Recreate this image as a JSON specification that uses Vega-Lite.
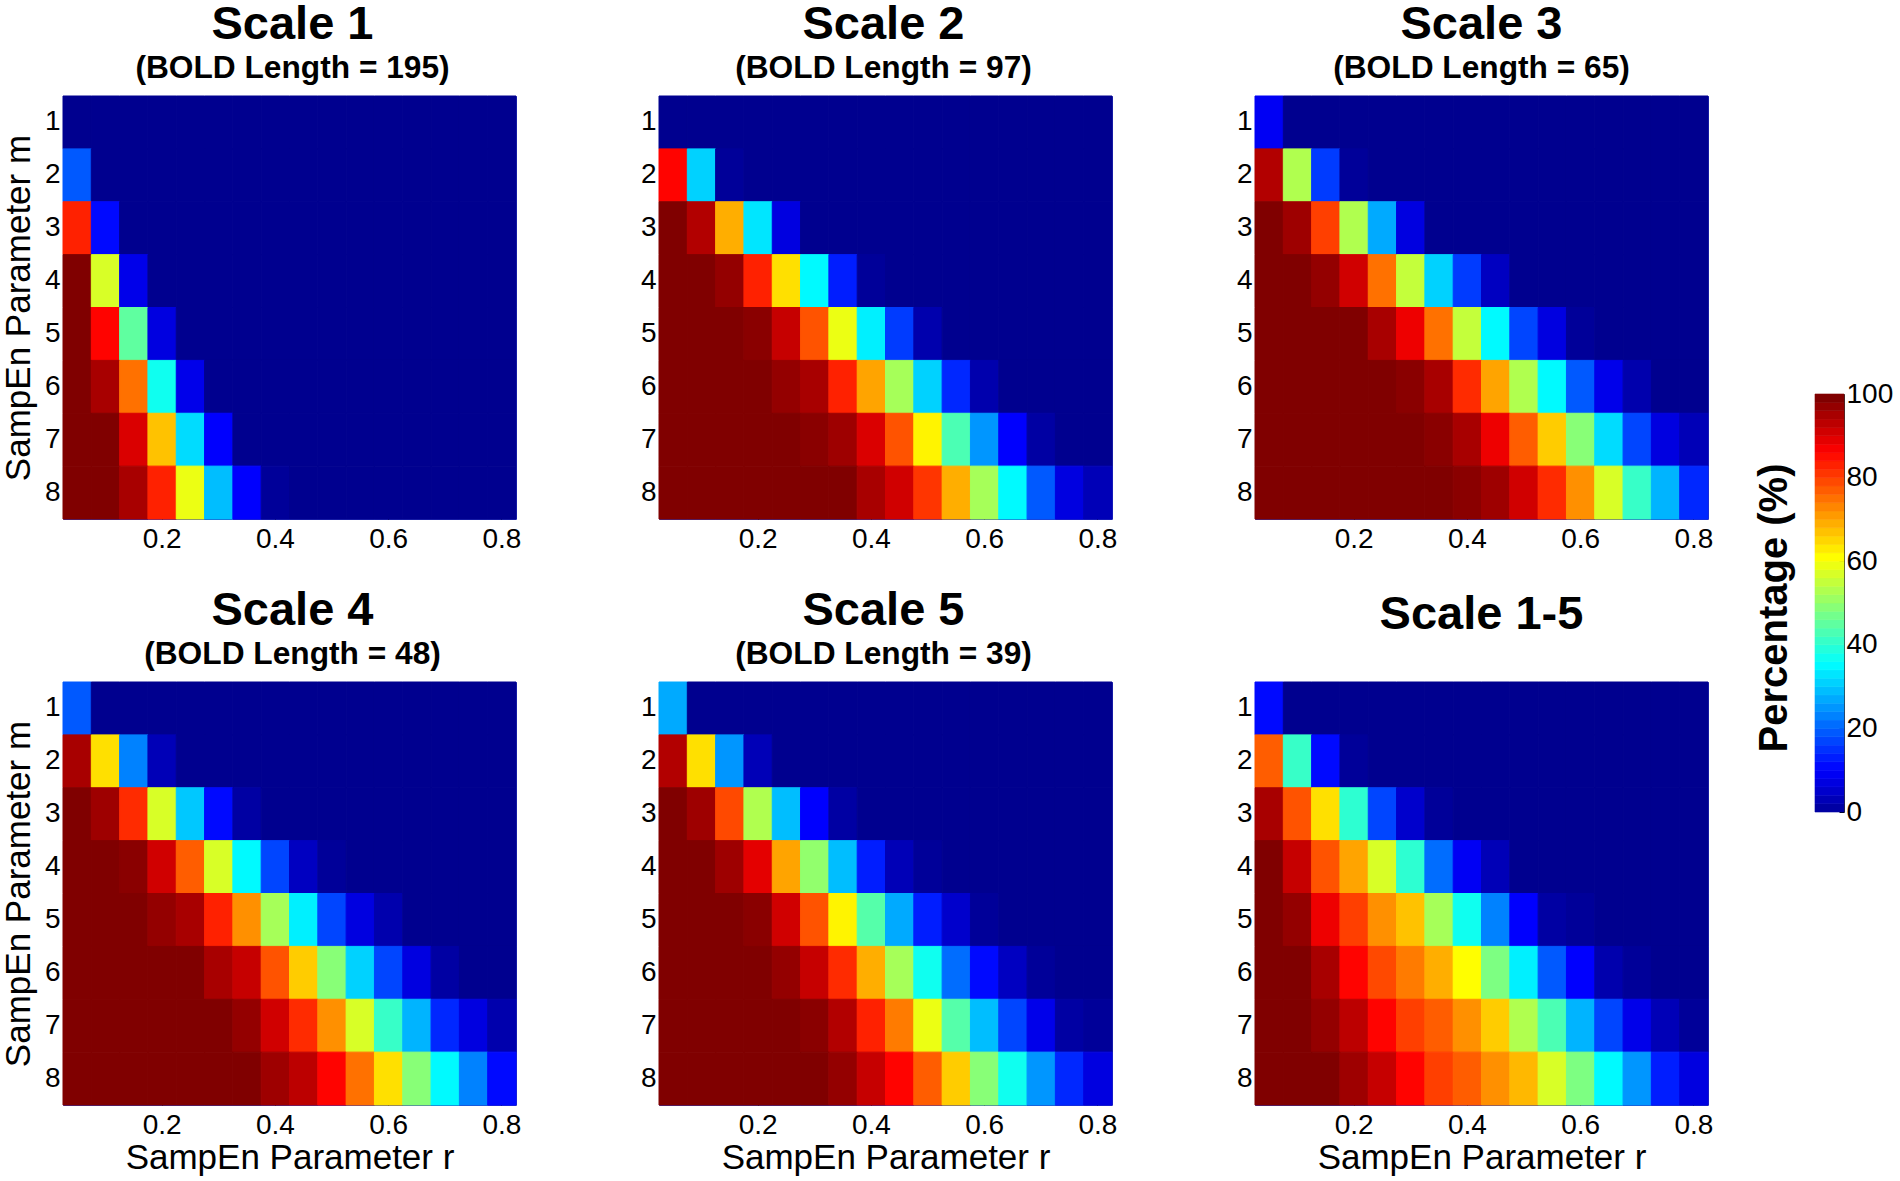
{"$schema":"https://vega.github.io/schema/vega-lite/v6.json","padding":0,"background":"white","spacing":40,
"config":{"font":"Liberation Sans","view":{"stroke":"#2a35b8","strokeWidth":1},"title":{"font":"Liberation Sans","fontSize":47,"fontWeight":"bold","color":"#000","subtitleFont":"Liberation Sans","subtitleFontSize":31.7,"subtitleFontWeight":"bold","subtitleColor":"#000","subtitlePadding":4,"anchor":"middle","offset":10},"axis":{"labelFont":"Liberation Sans","titleFont":"Liberation Sans","labelFontSize":28,"titleFontSize":35,"titleFontWeight":"normal","labelColor":"#000","titleColor":"#000","domain":false,"grid":false,"tickColor":"#000","tickSize":-5,"labelPadding":8,"zindex":1}},
"hconcat":[{"vconcat":[{"spacing":117,"hconcat":[
{"title":{"text":"Scale 1","subtitle":"(BOLD Length = 195)","dx":3},"width":453,"height":423,"transform":[{"filter":"datum.scale==1"}],"mark":{"type":"rect","strokeWidth":1},"encoding":{"x":{"field":"r","type":"ordinal","scale":{"domain":[0.05,0.1,0.15,0.2,0.25,0.3,0.35,0.4,0.45,0.5,0.55,0.6,0.65,0.7,0.75,0.8]},"axis":{"values":[0.2,0.4,0.6,0.8],"labelAngle":0,"title":null,"labelPadding":11}},"y":{"field":"m","type":"ordinal","scale":{"domain":[1,2,3,4,5,6,7,8]},"axis":{"title":"SampEn Parameter m","titlePadding":8}},"color":{"field":"pct","type":"quantitative","legend":null,"scale":{"domain":[0,11.1,36.5,61.9,87.3,100],"range":["#00008f","#0000ff","#00ffff","#ffff00","#ff0000","#800000"],"interpolate":"rgb"}},"stroke":{"field":"pct","type":"quantitative","legend":null,"scale":{"domain":[0,11.1,36.5,61.9,87.3,100],"range":["#00008f","#0000ff","#00ffff","#ffff00","#ff0000","#800000"],"interpolate":"rgb"}}}},
{"title":{"text":"Scale 2","subtitle":"(BOLD Length = 97)","dx":-2},"width":453,"height":423,"transform":[{"filter":"datum.scale==2"}],"mark":{"type":"rect","strokeWidth":1},"encoding":{"x":{"field":"r","type":"ordinal","scale":{"domain":[0.05,0.1,0.15,0.2,0.25,0.3,0.35,0.4,0.45,0.5,0.55,0.6,0.65,0.7,0.75,0.8]},"axis":{"values":[0.2,0.4,0.6,0.8],"labelAngle":0,"title":null,"labelPadding":11}},"y":{"field":"m","type":"ordinal","scale":{"domain":[1,2,3,4,5,6,7,8]},"axis":{"title":null}},"color":{"field":"pct","type":"quantitative","legend":null,"scale":{"domain":[0,11.1,36.5,61.9,87.3,100],"range":["#00008f","#0000ff","#00ffff","#ffff00","#ff0000","#800000"],"interpolate":"rgb"}},"stroke":{"field":"pct","type":"quantitative","legend":null,"scale":{"domain":[0,11.1,36.5,61.9,87.3,100],"range":["#00008f","#0000ff","#00ffff","#ffff00","#ff0000","#800000"],"interpolate":"rgb"}}}},
{"title":{"text":"Scale 3","subtitle":"(BOLD Length = 65)"},"width":453,"height":423,"transform":[{"filter":"datum.scale==3"}],"mark":{"type":"rect","strokeWidth":1},"encoding":{"x":{"field":"r","type":"ordinal","scale":{"domain":[0.05,0.1,0.15,0.2,0.25,0.3,0.35,0.4,0.45,0.5,0.55,0.6,0.65,0.7,0.75,0.8]},"axis":{"values":[0.2,0.4,0.6,0.8],"labelAngle":0,"title":null,"labelPadding":11}},"y":{"field":"m","type":"ordinal","scale":{"domain":[1,2,3,4,5,6,7,8]},"axis":{"title":null}},"color":{"field":"pct","type":"quantitative","legend":null,"scale":{"domain":[0,11.1,36.5,61.9,87.3,100],"range":["#00008f","#0000ff","#00ffff","#ffff00","#ff0000","#800000"],"interpolate":"rgb"}},"stroke":{"field":"pct","type":"quantitative","legend":null,"scale":{"domain":[0,11.1,36.5,61.9,87.3,100],"range":["#00008f","#0000ff","#00ffff","#ffff00","#ff0000","#800000"],"interpolate":"rgb"}}}}
]},{"spacing":117,"hconcat":[
{"title":{"text":"Scale 4","subtitle":"(BOLD Length = 48)","dx":3},"width":453,"height":423,"transform":[{"filter":"datum.scale==4"}],"mark":{"type":"rect","strokeWidth":1},"encoding":{"x":{"field":"r","type":"ordinal","scale":{"domain":[0.05,0.1,0.15,0.2,0.25,0.3,0.35,0.4,0.45,0.5,0.55,0.6,0.65,0.7,0.75,0.8]},"axis":{"values":[0.2,0.4,0.6,0.8],"labelAngle":0,"title":"SampEn Parameter r","labelPadding":11,"titlePadding":1}},"y":{"field":"m","type":"ordinal","scale":{"domain":[1,2,3,4,5,6,7,8]},"axis":{"title":"SampEn Parameter m","titlePadding":8}},"color":{"field":"pct","type":"quantitative","legend":null,"scale":{"domain":[0,11.1,36.5,61.9,87.3,100],"range":["#00008f","#0000ff","#00ffff","#ffff00","#ff0000","#800000"],"interpolate":"rgb"}},"stroke":{"field":"pct","type":"quantitative","legend":null,"scale":{"domain":[0,11.1,36.5,61.9,87.3,100],"range":["#00008f","#0000ff","#00ffff","#ffff00","#ff0000","#800000"],"interpolate":"rgb"}}}},
{"title":{"text":"Scale 5","subtitle":"(BOLD Length = 39)","dx":-2},"width":453,"height":423,"transform":[{"filter":"datum.scale==5"}],"mark":{"type":"rect","strokeWidth":1},"encoding":{"x":{"field":"r","type":"ordinal","scale":{"domain":[0.05,0.1,0.15,0.2,0.25,0.3,0.35,0.4,0.45,0.5,0.55,0.6,0.65,0.7,0.75,0.8]},"axis":{"values":[0.2,0.4,0.6,0.8],"labelAngle":0,"title":"SampEn Parameter r","labelPadding":11,"titlePadding":1}},"y":{"field":"m","type":"ordinal","scale":{"domain":[1,2,3,4,5,6,7,8]},"axis":{"title":null}},"color":{"field":"pct","type":"quantitative","legend":null,"scale":{"domain":[0,11.1,36.5,61.9,87.3,100],"range":["#00008f","#0000ff","#00ffff","#ffff00","#ff0000","#800000"],"interpolate":"rgb"}},"stroke":{"field":"pct","type":"quantitative","legend":null,"scale":{"domain":[0,11.1,36.5,61.9,87.3,100],"range":["#00008f","#0000ff","#00ffff","#ffff00","#ff0000","#800000"],"interpolate":"rgb"}}}},
{"title":{"text":"Scale 1-5","subtitle":" ","dy":4},"width":453,"height":423,"transform":[{"filter":"datum.scale==6"}],"mark":{"type":"rect","strokeWidth":1},"encoding":{"x":{"field":"r","type":"ordinal","scale":{"domain":[0.05,0.1,0.15,0.2,0.25,0.3,0.35,0.4,0.45,0.5,0.55,0.6,0.65,0.7,0.75,0.8]},"axis":{"values":[0.2,0.4,0.6,0.8],"labelAngle":0,"title":"SampEn Parameter r","labelPadding":11,"titlePadding":1}},"y":{"field":"m","type":"ordinal","scale":{"domain":[1,2,3,4,5,6,7,8]},"axis":{"title":null}},"color":{"field":"pct","type":"quantitative","legend":null,"scale":{"domain":[0,11.1,36.5,61.9,87.3,100],"range":["#00008f","#0000ff","#00ffff","#ffff00","#ff0000","#800000"],"interpolate":"rgb"}},"stroke":{"field":"pct","type":"quantitative","legend":null,"scale":{"domain":[0,11.1,36.5,61.9,87.3,100],"range":["#00008f","#0000ff","#00ffff","#ffff00","#ff0000","#800000"],"interpolate":"rgb"}}}}
]}],"spacing":32,
"data":{"values":[
{"scale":1,"m":1,"r":0.05,"pct":0},{"scale":1,"m":1,"r":0.1,"pct":0},{"scale":1,"m":1,"r":0.15,"pct":0},{"scale":1,"m":1,"r":0.2,"pct":0},{"scale":1,"m":1,"r":0.25,"pct":0},{"scale":1,"m":1,"r":0.3,"pct":0},{"scale":1,"m":1,"r":0.35,"pct":0},{"scale":1,"m":1,"r":0.4,"pct":0},{"scale":1,"m":1,"r":0.45,"pct":0},{"scale":1,"m":1,"r":0.5,"pct":0},{"scale":1,"m":1,"r":0.55,"pct":0},{"scale":1,"m":1,"r":0.6,"pct":0},{"scale":1,"m":1,"r":0.65,"pct":0},{"scale":1,"m":1,"r":0.7,"pct":0},{"scale":1,"m":1,"r":0.75,"pct":0},{"scale":1,"m":1,"r":0.8,"pct":0},
{"scale":1,"m":2,"r":0.05,"pct":20},{"scale":1,"m":2,"r":0.1,"pct":0},{"scale":1,"m":2,"r":0.15,"pct":0},{"scale":1,"m":2,"r":0.2,"pct":0},{"scale":1,"m":2,"r":0.25,"pct":0},{"scale":1,"m":2,"r":0.3,"pct":0},{"scale":1,"m":2,"r":0.35,"pct":0},{"scale":1,"m":2,"r":0.4,"pct":0},{"scale":1,"m":2,"r":0.45,"pct":0},{"scale":1,"m":2,"r":0.5,"pct":0},{"scale":1,"m":2,"r":0.55,"pct":0},{"scale":1,"m":2,"r":0.6,"pct":0},{"scale":1,"m":2,"r":0.65,"pct":0},{"scale":1,"m":2,"r":0.7,"pct":0},{"scale":1,"m":2,"r":0.75,"pct":0},{"scale":1,"m":2,"r":0.8,"pct":0},
{"scale":1,"m":3,"r":0.05,"pct":84},{"scale":1,"m":3,"r":0.1,"pct":12},{"scale":1,"m":3,"r":0.15,"pct":0},{"scale":1,"m":3,"r":0.2,"pct":0},{"scale":1,"m":3,"r":0.25,"pct":0},{"scale":1,"m":3,"r":0.3,"pct":0},{"scale":1,"m":3,"r":0.35,"pct":0},{"scale":1,"m":3,"r":0.4,"pct":0},{"scale":1,"m":3,"r":0.45,"pct":0},{"scale":1,"m":3,"r":0.5,"pct":0},{"scale":1,"m":3,"r":0.55,"pct":0},{"scale":1,"m":3,"r":0.6,"pct":0},{"scale":1,"m":3,"r":0.65,"pct":0},{"scale":1,"m":3,"r":0.7,"pct":0},{"scale":1,"m":3,"r":0.75,"pct":0},{"scale":1,"m":3,"r":0.8,"pct":0},
{"scale":1,"m":4,"r":0.05,"pct":100},{"scale":1,"m":4,"r":0.1,"pct":58},{"scale":1,"m":4,"r":0.15,"pct":9},{"scale":1,"m":4,"r":0.2,"pct":0},{"scale":1,"m":4,"r":0.25,"pct":0},{"scale":1,"m":4,"r":0.3,"pct":0},{"scale":1,"m":4,"r":0.35,"pct":0},{"scale":1,"m":4,"r":0.4,"pct":0},{"scale":1,"m":4,"r":0.45,"pct":0},{"scale":1,"m":4,"r":0.5,"pct":0},{"scale":1,"m":4,"r":0.55,"pct":0},{"scale":1,"m":4,"r":0.6,"pct":0},{"scale":1,"m":4,"r":0.65,"pct":0},{"scale":1,"m":4,"r":0.7,"pct":0},{"scale":1,"m":4,"r":0.75,"pct":0},{"scale":1,"m":4,"r":0.8,"pct":0},
{"scale":1,"m":5,"r":0.05,"pct":100},{"scale":1,"m":5,"r":0.1,"pct":87},{"scale":1,"m":5,"r":0.15,"pct":46},{"scale":1,"m":5,"r":0.2,"pct":8},{"scale":1,"m":5,"r":0.25,"pct":0},{"scale":1,"m":5,"r":0.3,"pct":0},{"scale":1,"m":5,"r":0.35,"pct":0},{"scale":1,"m":5,"r":0.4,"pct":0},{"scale":1,"m":5,"r":0.45,"pct":0},{"scale":1,"m":5,"r":0.5,"pct":0},{"scale":1,"m":5,"r":0.55,"pct":0},{"scale":1,"m":5,"r":0.6,"pct":0},{"scale":1,"m":5,"r":0.65,"pct":0},{"scale":1,"m":5,"r":0.7,"pct":0},{"scale":1,"m":5,"r":0.75,"pct":0},{"scale":1,"m":5,"r":0.8,"pct":0},
{"scale":1,"m":6,"r":0.05,"pct":100},{"scale":1,"m":6,"r":0.1,"pct":96},{"scale":1,"m":6,"r":0.15,"pct":76},{"scale":1,"m":6,"r":0.2,"pct":38},{"scale":1,"m":6,"r":0.25,"pct":9},{"scale":1,"m":6,"r":0.3,"pct":0},{"scale":1,"m":6,"r":0.35,"pct":0},{"scale":1,"m":6,"r":0.4,"pct":0},{"scale":1,"m":6,"r":0.45,"pct":0},{"scale":1,"m":6,"r":0.5,"pct":0},{"scale":1,"m":6,"r":0.55,"pct":0},{"scale":1,"m":6,"r":0.6,"pct":0},{"scale":1,"m":6,"r":0.65,"pct":0},{"scale":1,"m":6,"r":0.7,"pct":0},{"scale":1,"m":6,"r":0.75,"pct":0},{"scale":1,"m":6,"r":0.8,"pct":0},
{"scale":1,"m":7,"r":0.05,"pct":100},{"scale":1,"m":7,"r":0.1,"pct":100},{"scale":1,"m":7,"r":0.15,"pct":91},{"scale":1,"m":7,"r":0.2,"pct":68},{"scale":1,"m":7,"r":0.25,"pct":33},{"scale":1,"m":7,"r":0.3,"pct":11},{"scale":1,"m":7,"r":0.35,"pct":0},{"scale":1,"m":7,"r":0.4,"pct":0},{"scale":1,"m":7,"r":0.45,"pct":0},{"scale":1,"m":7,"r":0.5,"pct":0},{"scale":1,"m":7,"r":0.55,"pct":0},{"scale":1,"m":7,"r":0.6,"pct":0},{"scale":1,"m":7,"r":0.65,"pct":0},{"scale":1,"m":7,"r":0.7,"pct":0},{"scale":1,"m":7,"r":0.75,"pct":0},{"scale":1,"m":7,"r":0.8,"pct":0},
{"scale":1,"m":8,"r":0.05,"pct":100},{"scale":1,"m":8,"r":0.1,"pct":100},{"scale":1,"m":8,"r":0.15,"pct":96},{"scale":1,"m":8,"r":0.2,"pct":84},{"scale":1,"m":8,"r":0.25,"pct":60},{"scale":1,"m":8,"r":0.3,"pct":30},{"scale":1,"m":8,"r":0.35,"pct":11},{"scale":1,"m":8,"r":0.4,"pct":1},{"scale":1,"m":8,"r":0.45,"pct":0},{"scale":1,"m":8,"r":0.5,"pct":0},{"scale":1,"m":8,"r":0.55,"pct":0},{"scale":1,"m":8,"r":0.6,"pct":0},{"scale":1,"m":8,"r":0.65,"pct":0},{"scale":1,"m":8,"r":0.7,"pct":0},{"scale":1,"m":8,"r":0.75,"pct":0},{"scale":1,"m":8,"r":0.8,"pct":0},
{"scale":2,"m":1,"r":0.05,"pct":0},{"scale":2,"m":1,"r":0.1,"pct":0},{"scale":2,"m":1,"r":0.15,"pct":0},{"scale":2,"m":1,"r":0.2,"pct":0},{"scale":2,"m":1,"r":0.25,"pct":0},{"scale":2,"m":1,"r":0.3,"pct":0},{"scale":2,"m":1,"r":0.35,"pct":0},{"scale":2,"m":1,"r":0.4,"pct":0},{"scale":2,"m":1,"r":0.45,"pct":0},{"scale":2,"m":1,"r":0.5,"pct":0},{"scale":2,"m":1,"r":0.55,"pct":0},{"scale":2,"m":1,"r":0.6,"pct":0},{"scale":2,"m":1,"r":0.65,"pct":0},{"scale":2,"m":1,"r":0.7,"pct":0},{"scale":2,"m":1,"r":0.75,"pct":0},{"scale":2,"m":1,"r":0.8,"pct":0},
{"scale":2,"m":2,"r":0.05,"pct":87},{"scale":2,"m":2,"r":0.1,"pct":32},{"scale":2,"m":2,"r":0.15,"pct":1},{"scale":2,"m":2,"r":0.2,"pct":0},{"scale":2,"m":2,"r":0.25,"pct":0},{"scale":2,"m":2,"r":0.3,"pct":0},{"scale":2,"m":2,"r":0.35,"pct":0},{"scale":2,"m":2,"r":0.4,"pct":0},{"scale":2,"m":2,"r":0.45,"pct":0},{"scale":2,"m":2,"r":0.5,"pct":0},{"scale":2,"m":2,"r":0.55,"pct":0},{"scale":2,"m":2,"r":0.6,"pct":0},{"scale":2,"m":2,"r":0.65,"pct":0},{"scale":2,"m":2,"r":0.7,"pct":0},{"scale":2,"m":2,"r":0.75,"pct":0},{"scale":2,"m":2,"r":0.8,"pct":0},
{"scale":2,"m":3,"r":0.05,"pct":100},{"scale":2,"m":3,"r":0.1,"pct":95},{"scale":2,"m":3,"r":0.15,"pct":70},{"scale":2,"m":3,"r":0.2,"pct":34},{"scale":2,"m":3,"r":0.25,"pct":8},{"scale":2,"m":3,"r":0.3,"pct":0},{"scale":2,"m":3,"r":0.35,"pct":0},{"scale":2,"m":3,"r":0.4,"pct":0},{"scale":2,"m":3,"r":0.45,"pct":0},{"scale":2,"m":3,"r":0.5,"pct":0},{"scale":2,"m":3,"r":0.55,"pct":0},{"scale":2,"m":3,"r":0.6,"pct":0},{"scale":2,"m":3,"r":0.65,"pct":0},{"scale":2,"m":3,"r":0.7,"pct":0},{"scale":2,"m":3,"r":0.75,"pct":0},{"scale":2,"m":3,"r":0.8,"pct":0},
{"scale":2,"m":4,"r":0.05,"pct":100},{"scale":2,"m":4,"r":0.1,"pct":100},{"scale":2,"m":4,"r":0.15,"pct":98},{"scale":2,"m":4,"r":0.2,"pct":84},{"scale":2,"m":4,"r":0.25,"pct":65},{"scale":2,"m":4,"r":0.3,"pct":36},{"scale":2,"m":4,"r":0.35,"pct":14},{"scale":2,"m":4,"r":0.4,"pct":1},{"scale":2,"m":4,"r":0.45,"pct":0},{"scale":2,"m":4,"r":0.5,"pct":0},{"scale":2,"m":4,"r":0.55,"pct":0},{"scale":2,"m":4,"r":0.6,"pct":0},{"scale":2,"m":4,"r":0.65,"pct":0},{"scale":2,"m":4,"r":0.7,"pct":0},{"scale":2,"m":4,"r":0.75,"pct":0},{"scale":2,"m":4,"r":0.8,"pct":0},
{"scale":2,"m":5,"r":0.05,"pct":100},{"scale":2,"m":5,"r":0.1,"pct":100},{"scale":2,"m":5,"r":0.15,"pct":100},{"scale":2,"m":5,"r":0.2,"pct":99},{"scale":2,"m":5,"r":0.25,"pct":93},{"scale":2,"m":5,"r":0.3,"pct":79},{"scale":2,"m":5,"r":0.35,"pct":60},{"scale":2,"m":5,"r":0.4,"pct":35},{"scale":2,"m":5,"r":0.45,"pct":17},{"scale":2,"m":5,"r":0.5,"pct":3},{"scale":2,"m":5,"r":0.55,"pct":0},{"scale":2,"m":5,"r":0.6,"pct":0},{"scale":2,"m":5,"r":0.65,"pct":0},{"scale":2,"m":5,"r":0.7,"pct":0},{"scale":2,"m":5,"r":0.75,"pct":0},{"scale":2,"m":5,"r":0.8,"pct":0},
{"scale":2,"m":6,"r":0.05,"pct":100},{"scale":2,"m":6,"r":0.1,"pct":100},{"scale":2,"m":6,"r":0.15,"pct":100},{"scale":2,"m":6,"r":0.2,"pct":100},{"scale":2,"m":6,"r":0.25,"pct":98},{"scale":2,"m":6,"r":0.3,"pct":96},{"scale":2,"m":6,"r":0.35,"pct":84},{"scale":2,"m":6,"r":0.4,"pct":71},{"scale":2,"m":6,"r":0.45,"pct":53},{"scale":2,"m":6,"r":0.5,"pct":32},{"scale":2,"m":6,"r":0.55,"pct":15},{"scale":2,"m":6,"r":0.6,"pct":3},{"scale":2,"m":6,"r":0.65,"pct":0},{"scale":2,"m":6,"r":0.7,"pct":0},{"scale":2,"m":6,"r":0.75,"pct":0},{"scale":2,"m":6,"r":0.8,"pct":0},
{"scale":2,"m":7,"r":0.05,"pct":100},{"scale":2,"m":7,"r":0.1,"pct":100},{"scale":2,"m":7,"r":0.15,"pct":100},{"scale":2,"m":7,"r":0.2,"pct":100},{"scale":2,"m":7,"r":0.25,"pct":100},{"scale":2,"m":7,"r":0.3,"pct":99},{"scale":2,"m":7,"r":0.35,"pct":97},{"scale":2,"m":7,"r":0.4,"pct":91},{"scale":2,"m":7,"r":0.45,"pct":79},{"scale":2,"m":7,"r":0.5,"pct":63},{"scale":2,"m":7,"r":0.55,"pct":44},{"scale":2,"m":7,"r":0.6,"pct":26},{"scale":2,"m":7,"r":0.65,"pct":11},{"scale":2,"m":7,"r":0.7,"pct":2},{"scale":2,"m":7,"r":0.75,"pct":0},{"scale":2,"m":7,"r":0.8,"pct":0},
{"scale":2,"m":8,"r":0.05,"pct":100},{"scale":2,"m":8,"r":0.1,"pct":100},{"scale":2,"m":8,"r":0.15,"pct":100},{"scale":2,"m":8,"r":0.2,"pct":100},{"scale":2,"m":8,"r":0.25,"pct":100},{"scale":2,"m":8,"r":0.3,"pct":100},{"scale":2,"m":8,"r":0.35,"pct":100},{"scale":2,"m":8,"r":0.4,"pct":96},{"scale":2,"m":8,"r":0.45,"pct":92},{"scale":2,"m":8,"r":0.5,"pct":82},{"scale":2,"m":8,"r":0.55,"pct":70},{"scale":2,"m":8,"r":0.6,"pct":53},{"scale":2,"m":8,"r":0.65,"pct":36},{"scale":2,"m":8,"r":0.7,"pct":20},{"scale":2,"m":8,"r":0.75,"pct":8},{"scale":2,"m":8,"r":0.8,"pct":4},
{"scale":3,"m":1,"r":0.05,"pct":10},{"scale":3,"m":1,"r":0.1,"pct":0},{"scale":3,"m":1,"r":0.15,"pct":0},{"scale":3,"m":1,"r":0.2,"pct":0},{"scale":3,"m":1,"r":0.25,"pct":0},{"scale":3,"m":1,"r":0.3,"pct":0},{"scale":3,"m":1,"r":0.35,"pct":0},{"scale":3,"m":1,"r":0.4,"pct":0},{"scale":3,"m":1,"r":0.45,"pct":0},{"scale":3,"m":1,"r":0.5,"pct":0},{"scale":3,"m":1,"r":0.55,"pct":0},{"scale":3,"m":1,"r":0.6,"pct":0},{"scale":3,"m":1,"r":0.65,"pct":0},{"scale":3,"m":1,"r":0.7,"pct":0},{"scale":3,"m":1,"r":0.75,"pct":0},{"scale":3,"m":1,"r":0.8,"pct":0},
{"scale":3,"m":2,"r":0.05,"pct":95},{"scale":3,"m":2,"r":0.1,"pct":54},{"scale":3,"m":2,"r":0.15,"pct":17},{"scale":3,"m":2,"r":0.2,"pct":1},{"scale":3,"m":2,"r":0.25,"pct":0},{"scale":3,"m":2,"r":0.3,"pct":0},{"scale":3,"m":2,"r":0.35,"pct":0},{"scale":3,"m":2,"r":0.4,"pct":0},{"scale":3,"m":2,"r":0.45,"pct":0},{"scale":3,"m":2,"r":0.5,"pct":0},{"scale":3,"m":2,"r":0.55,"pct":0},{"scale":3,"m":2,"r":0.6,"pct":0},{"scale":3,"m":2,"r":0.65,"pct":0},{"scale":3,"m":2,"r":0.7,"pct":0},{"scale":3,"m":2,"r":0.75,"pct":0},{"scale":3,"m":2,"r":0.8,"pct":0},
{"scale":3,"m":3,"r":0.05,"pct":100},{"scale":3,"m":3,"r":0.1,"pct":97},{"scale":3,"m":3,"r":0.15,"pct":81},{"scale":3,"m":3,"r":0.2,"pct":54},{"scale":3,"m":3,"r":0.25,"pct":28},{"scale":3,"m":3,"r":0.3,"pct":8},{"scale":3,"m":3,"r":0.35,"pct":0},{"scale":3,"m":3,"r":0.4,"pct":0},{"scale":3,"m":3,"r":0.45,"pct":0},{"scale":3,"m":3,"r":0.5,"pct":0},{"scale":3,"m":3,"r":0.55,"pct":0},{"scale":3,"m":3,"r":0.6,"pct":0},{"scale":3,"m":3,"r":0.65,"pct":0},{"scale":3,"m":3,"r":0.7,"pct":0},{"scale":3,"m":3,"r":0.75,"pct":0},{"scale":3,"m":3,"r":0.8,"pct":0},
{"scale":3,"m":4,"r":0.05,"pct":100},{"scale":3,"m":4,"r":0.1,"pct":100},{"scale":3,"m":4,"r":0.15,"pct":98},{"scale":3,"m":4,"r":0.2,"pct":92},{"scale":3,"m":4,"r":0.25,"pct":76},{"scale":3,"m":4,"r":0.3,"pct":56},{"scale":3,"m":4,"r":0.35,"pct":32},{"scale":3,"m":4,"r":0.4,"pct":17},{"scale":3,"m":4,"r":0.45,"pct":5},{"scale":3,"m":4,"r":0.5,"pct":0},{"scale":3,"m":4,"r":0.55,"pct":0},{"scale":3,"m":4,"r":0.6,"pct":0},{"scale":3,"m":4,"r":0.65,"pct":0},{"scale":3,"m":4,"r":0.7,"pct":0},{"scale":3,"m":4,"r":0.75,"pct":0},{"scale":3,"m":4,"r":0.8,"pct":0},
{"scale":3,"m":5,"r":0.05,"pct":100},{"scale":3,"m":5,"r":0.1,"pct":100},{"scale":3,"m":5,"r":0.15,"pct":100},{"scale":3,"m":5,"r":0.2,"pct":100},{"scale":3,"m":5,"r":0.25,"pct":96},{"scale":3,"m":5,"r":0.3,"pct":89},{"scale":3,"m":5,"r":0.35,"pct":76},{"scale":3,"m":5,"r":0.4,"pct":56},{"scale":3,"m":5,"r":0.45,"pct":36},{"scale":3,"m":5,"r":0.5,"pct":18},{"scale":3,"m":5,"r":0.55,"pct":8},{"scale":3,"m":5,"r":0.6,"pct":1},{"scale":3,"m":5,"r":0.65,"pct":0},{"scale":3,"m":5,"r":0.7,"pct":0},{"scale":3,"m":5,"r":0.75,"pct":0},{"scale":3,"m":5,"r":0.8,"pct":0},
{"scale":3,"m":6,"r":0.05,"pct":100},{"scale":3,"m":6,"r":0.1,"pct":100},{"scale":3,"m":6,"r":0.15,"pct":100},{"scale":3,"m":6,"r":0.2,"pct":100},{"scale":3,"m":6,"r":0.25,"pct":100},{"scale":3,"m":6,"r":0.3,"pct":99},{"scale":3,"m":6,"r":0.35,"pct":96},{"scale":3,"m":6,"r":0.4,"pct":83},{"scale":3,"m":6,"r":0.45,"pct":71},{"scale":3,"m":6,"r":0.5,"pct":54},{"scale":3,"m":6,"r":0.55,"pct":36},{"scale":3,"m":6,"r":0.6,"pct":20},{"scale":3,"m":6,"r":0.65,"pct":9},{"scale":3,"m":6,"r":0.7,"pct":3},{"scale":3,"m":6,"r":0.75,"pct":0},{"scale":3,"m":6,"r":0.8,"pct":0},
{"scale":3,"m":7,"r":0.05,"pct":100},{"scale":3,"m":7,"r":0.1,"pct":100},{"scale":3,"m":7,"r":0.15,"pct":100},{"scale":3,"m":7,"r":0.2,"pct":100},{"scale":3,"m":7,"r":0.25,"pct":100},{"scale":3,"m":7,"r":0.3,"pct":100},{"scale":3,"m":7,"r":0.35,"pct":99},{"scale":3,"m":7,"r":0.4,"pct":96},{"scale":3,"m":7,"r":0.45,"pct":89},{"scale":3,"m":7,"r":0.5,"pct":78},{"scale":3,"m":7,"r":0.55,"pct":67},{"scale":3,"m":7,"r":0.6,"pct":50},{"scale":3,"m":7,"r":0.65,"pct":33},{"scale":3,"m":7,"r":0.7,"pct":18},{"scale":3,"m":7,"r":0.75,"pct":8},{"scale":3,"m":7,"r":0.8,"pct":4},
{"scale":3,"m":8,"r":0.05,"pct":100},{"scale":3,"m":8,"r":0.1,"pct":100},{"scale":3,"m":8,"r":0.15,"pct":100},{"scale":3,"m":8,"r":0.2,"pct":100},{"scale":3,"m":8,"r":0.25,"pct":100},{"scale":3,"m":8,"r":0.3,"pct":100},{"scale":3,"m":8,"r":0.35,"pct":100},{"scale":3,"m":8,"r":0.4,"pct":99},{"scale":3,"m":8,"r":0.45,"pct":97},{"scale":3,"m":8,"r":0.5,"pct":92},{"scale":3,"m":8,"r":0.55,"pct":83},{"scale":3,"m":8,"r":0.6,"pct":73},{"scale":3,"m":8,"r":0.65,"pct":58},{"scale":3,"m":8,"r":0.7,"pct":42},{"scale":3,"m":8,"r":0.75,"pct":29},{"scale":3,"m":8,"r":0.8,"pct":15},
{"scale":4,"m":1,"r":0.05,"pct":20},{"scale":4,"m":1,"r":0.1,"pct":0},{"scale":4,"m":1,"r":0.15,"pct":0},{"scale":4,"m":1,"r":0.2,"pct":0},{"scale":4,"m":1,"r":0.25,"pct":0},{"scale":4,"m":1,"r":0.3,"pct":0},{"scale":4,"m":1,"r":0.35,"pct":0},{"scale":4,"m":1,"r":0.4,"pct":0},{"scale":4,"m":1,"r":0.45,"pct":0},{"scale":4,"m":1,"r":0.5,"pct":0},{"scale":4,"m":1,"r":0.55,"pct":0},{"scale":4,"m":1,"r":0.6,"pct":0},{"scale":4,"m":1,"r":0.65,"pct":0},{"scale":4,"m":1,"r":0.7,"pct":0},{"scale":4,"m":1,"r":0.75,"pct":0},{"scale":4,"m":1,"r":0.8,"pct":0},
{"scale":4,"m":2,"r":0.05,"pct":96},{"scale":4,"m":2,"r":0.1,"pct":65},{"scale":4,"m":2,"r":0.15,"pct":24},{"scale":4,"m":2,"r":0.2,"pct":4},{"scale":4,"m":2,"r":0.25,"pct":0},{"scale":4,"m":2,"r":0.3,"pct":0},{"scale":4,"m":2,"r":0.35,"pct":0},{"scale":4,"m":2,"r":0.4,"pct":0},{"scale":4,"m":2,"r":0.45,"pct":0},{"scale":4,"m":2,"r":0.5,"pct":0},{"scale":4,"m":2,"r":0.55,"pct":0},{"scale":4,"m":2,"r":0.6,"pct":0},{"scale":4,"m":2,"r":0.65,"pct":0},{"scale":4,"m":2,"r":0.7,"pct":0},{"scale":4,"m":2,"r":0.75,"pct":0},{"scale":4,"m":2,"r":0.8,"pct":0},
{"scale":4,"m":3,"r":0.05,"pct":100},{"scale":4,"m":3,"r":0.1,"pct":97},{"scale":4,"m":3,"r":0.15,"pct":83},{"scale":4,"m":3,"r":0.2,"pct":58},{"scale":4,"m":3,"r":0.25,"pct":31},{"scale":4,"m":3,"r":0.3,"pct":12},{"scale":4,"m":3,"r":0.35,"pct":2},{"scale":4,"m":3,"r":0.4,"pct":0},{"scale":4,"m":3,"r":0.45,"pct":0},{"scale":4,"m":3,"r":0.5,"pct":0},{"scale":4,"m":3,"r":0.55,"pct":0},{"scale":4,"m":3,"r":0.6,"pct":0},{"scale":4,"m":3,"r":0.65,"pct":0},{"scale":4,"m":3,"r":0.7,"pct":0},{"scale":4,"m":3,"r":0.75,"pct":0},{"scale":4,"m":3,"r":0.8,"pct":0},
{"scale":4,"m":4,"r":0.05,"pct":100},{"scale":4,"m":4,"r":0.1,"pct":100},{"scale":4,"m":4,"r":0.15,"pct":99},{"scale":4,"m":4,"r":0.2,"pct":92},{"scale":4,"m":4,"r":0.25,"pct":78},{"scale":4,"m":4,"r":0.3,"pct":58},{"scale":4,"m":4,"r":0.35,"pct":36},{"scale":4,"m":4,"r":0.4,"pct":18},{"scale":4,"m":4,"r":0.45,"pct":5},{"scale":4,"m":4,"r":0.5,"pct":1},{"scale":4,"m":4,"r":0.55,"pct":0},{"scale":4,"m":4,"r":0.6,"pct":0},{"scale":4,"m":4,"r":0.65,"pct":0},{"scale":4,"m":4,"r":0.7,"pct":0},{"scale":4,"m":4,"r":0.75,"pct":0},{"scale":4,"m":4,"r":0.8,"pct":0},
{"scale":4,"m":5,"r":0.05,"pct":100},{"scale":4,"m":5,"r":0.1,"pct":100},{"scale":4,"m":5,"r":0.15,"pct":100},{"scale":4,"m":5,"r":0.2,"pct":98},{"scale":4,"m":5,"r":0.25,"pct":96},{"scale":4,"m":5,"r":0.3,"pct":84},{"scale":4,"m":5,"r":0.35,"pct":73},{"scale":4,"m":5,"r":0.4,"pct":53},{"scale":4,"m":5,"r":0.45,"pct":35},{"scale":4,"m":5,"r":0.5,"pct":18},{"scale":4,"m":5,"r":0.55,"pct":8},{"scale":4,"m":5,"r":0.6,"pct":3},{"scale":4,"m":5,"r":0.65,"pct":0},{"scale":4,"m":5,"r":0.7,"pct":0},{"scale":4,"m":5,"r":0.75,"pct":0},{"scale":4,"m":5,"r":0.8,"pct":0},
{"scale":4,"m":6,"r":0.05,"pct":100},{"scale":4,"m":6,"r":0.1,"pct":100},{"scale":4,"m":6,"r":0.15,"pct":100},{"scale":4,"m":6,"r":0.2,"pct":100},{"scale":4,"m":6,"r":0.25,"pct":100},{"scale":4,"m":6,"r":0.3,"pct":96},{"scale":4,"m":6,"r":0.35,"pct":93},{"scale":4,"m":6,"r":0.4,"pct":79},{"scale":4,"m":6,"r":0.45,"pct":67},{"scale":4,"m":6,"r":0.5,"pct":50},{"scale":4,"m":6,"r":0.55,"pct":32},{"scale":4,"m":6,"r":0.6,"pct":18},{"scale":4,"m":6,"r":0.65,"pct":8},{"scale":4,"m":6,"r":0.7,"pct":2},{"scale":4,"m":6,"r":0.75,"pct":0},{"scale":4,"m":6,"r":0.8,"pct":0},
{"scale":4,"m":7,"r":0.05,"pct":100},{"scale":4,"m":7,"r":0.1,"pct":100},{"scale":4,"m":7,"r":0.15,"pct":100},{"scale":4,"m":7,"r":0.2,"pct":100},{"scale":4,"m":7,"r":0.25,"pct":100},{"scale":4,"m":7,"r":0.3,"pct":100},{"scale":4,"m":7,"r":0.35,"pct":98},{"scale":4,"m":7,"r":0.4,"pct":92},{"scale":4,"m":7,"r":0.45,"pct":83},{"scale":4,"m":7,"r":0.5,"pct":73},{"scale":4,"m":7,"r":0.55,"pct":58},{"scale":4,"m":7,"r":0.6,"pct":42},{"scale":4,"m":7,"r":0.65,"pct":29},{"scale":4,"m":7,"r":0.7,"pct":15},{"scale":4,"m":7,"r":0.75,"pct":8},{"scale":4,"m":7,"r":0.8,"pct":3},
{"scale":4,"m":8,"r":0.05,"pct":100},{"scale":4,"m":8,"r":0.1,"pct":100},{"scale":4,"m":8,"r":0.15,"pct":100},{"scale":4,"m":8,"r":0.2,"pct":100},{"scale":4,"m":8,"r":0.25,"pct":100},{"scale":4,"m":8,"r":0.3,"pct":100},{"scale":4,"m":8,"r":0.35,"pct":100},{"scale":4,"m":8,"r":0.4,"pct":97},{"scale":4,"m":8,"r":0.45,"pct":94},{"scale":4,"m":8,"r":0.5,"pct":87},{"scale":4,"m":8,"r":0.55,"pct":76},{"scale":4,"m":8,"r":0.6,"pct":65},{"scale":4,"m":8,"r":0.65,"pct":50},{"scale":4,"m":8,"r":0.7,"pct":36},{"scale":4,"m":8,"r":0.75,"pct":24},{"scale":4,"m":8,"r":0.8,"pct":12},
{"scale":5,"m":1,"r":0.05,"pct":28},{"scale":5,"m":1,"r":0.1,"pct":0},{"scale":5,"m":1,"r":0.15,"pct":0},{"scale":5,"m":1,"r":0.2,"pct":0},{"scale":5,"m":1,"r":0.25,"pct":0},{"scale":5,"m":1,"r":0.3,"pct":0},{"scale":5,"m":1,"r":0.35,"pct":0},{"scale":5,"m":1,"r":0.4,"pct":0},{"scale":5,"m":1,"r":0.45,"pct":0},{"scale":5,"m":1,"r":0.5,"pct":0},{"scale":5,"m":1,"r":0.55,"pct":0},{"scale":5,"m":1,"r":0.6,"pct":0},{"scale":5,"m":1,"r":0.65,"pct":0},{"scale":5,"m":1,"r":0.7,"pct":0},{"scale":5,"m":1,"r":0.75,"pct":0},{"scale":5,"m":1,"r":0.8,"pct":0},
{"scale":5,"m":2,"r":0.05,"pct":95},{"scale":5,"m":2,"r":0.1,"pct":65},{"scale":5,"m":2,"r":0.15,"pct":26},{"scale":5,"m":2,"r":0.2,"pct":4},{"scale":5,"m":2,"r":0.25,"pct":0},{"scale":5,"m":2,"r":0.3,"pct":0},{"scale":5,"m":2,"r":0.35,"pct":0},{"scale":5,"m":2,"r":0.4,"pct":0},{"scale":5,"m":2,"r":0.45,"pct":0},{"scale":5,"m":2,"r":0.5,"pct":0},{"scale":5,"m":2,"r":0.55,"pct":0},{"scale":5,"m":2,"r":0.6,"pct":0},{"scale":5,"m":2,"r":0.65,"pct":0},{"scale":5,"m":2,"r":0.7,"pct":0},{"scale":5,"m":2,"r":0.75,"pct":0},{"scale":5,"m":2,"r":0.8,"pct":0},
{"scale":5,"m":3,"r":0.05,"pct":100},{"scale":5,"m":3,"r":0.1,"pct":97},{"scale":5,"m":3,"r":0.15,"pct":80},{"scale":5,"m":3,"r":0.2,"pct":54},{"scale":5,"m":3,"r":0.25,"pct":30},{"scale":5,"m":3,"r":0.3,"pct":11},{"scale":5,"m":3,"r":0.35,"pct":2},{"scale":5,"m":3,"r":0.4,"pct":0},{"scale":5,"m":3,"r":0.45,"pct":0},{"scale":5,"m":3,"r":0.5,"pct":0},{"scale":5,"m":3,"r":0.55,"pct":0},{"scale":5,"m":3,"r":0.6,"pct":0},{"scale":5,"m":3,"r":0.65,"pct":0},{"scale":5,"m":3,"r":0.7,"pct":0},{"scale":5,"m":3,"r":0.75,"pct":0},{"scale":5,"m":3,"r":0.8,"pct":0},
{"scale":5,"m":4,"r":0.05,"pct":100},{"scale":5,"m":4,"r":0.1,"pct":100},{"scale":5,"m":4,"r":0.15,"pct":97},{"scale":5,"m":4,"r":0.2,"pct":90},{"scale":5,"m":4,"r":0.25,"pct":71},{"scale":5,"m":4,"r":0.3,"pct":51},{"scale":5,"m":4,"r":0.35,"pct":30},{"scale":5,"m":4,"r":0.4,"pct":14},{"scale":5,"m":4,"r":0.45,"pct":4},{"scale":5,"m":4,"r":0.5,"pct":1},{"scale":5,"m":4,"r":0.55,"pct":0},{"scale":5,"m":4,"r":0.6,"pct":0},{"scale":5,"m":4,"r":0.65,"pct":0},{"scale":5,"m":4,"r":0.7,"pct":0},{"scale":5,"m":4,"r":0.75,"pct":0},{"scale":5,"m":4,"r":0.8,"pct":0},
{"scale":5,"m":5,"r":0.05,"pct":100},{"scale":5,"m":5,"r":0.1,"pct":100},{"scale":5,"m":5,"r":0.15,"pct":100},{"scale":5,"m":5,"r":0.2,"pct":99},{"scale":5,"m":5,"r":0.25,"pct":92},{"scale":5,"m":5,"r":0.3,"pct":79},{"scale":5,"m":5,"r":0.35,"pct":63},{"scale":5,"m":5,"r":0.4,"pct":45},{"scale":5,"m":5,"r":0.45,"pct":28},{"scale":5,"m":5,"r":0.5,"pct":14},{"scale":5,"m":5,"r":0.55,"pct":6},{"scale":5,"m":5,"r":0.6,"pct":1},{"scale":5,"m":5,"r":0.65,"pct":0},{"scale":5,"m":5,"r":0.7,"pct":0},{"scale":5,"m":5,"r":0.75,"pct":0},{"scale":5,"m":5,"r":0.8,"pct":0},
{"scale":5,"m":6,"r":0.05,"pct":100},{"scale":5,"m":6,"r":0.1,"pct":100},{"scale":5,"m":6,"r":0.15,"pct":100},{"scale":5,"m":6,"r":0.2,"pct":100},{"scale":5,"m":6,"r":0.25,"pct":98},{"scale":5,"m":6,"r":0.3,"pct":93},{"scale":5,"m":6,"r":0.35,"pct":83},{"scale":5,"m":6,"r":0.4,"pct":70},{"scale":5,"m":6,"r":0.45,"pct":53},{"scale":5,"m":6,"r":0.5,"pct":38},{"scale":5,"m":6,"r":0.55,"pct":22},{"scale":5,"m":6,"r":0.6,"pct":12},{"scale":5,"m":6,"r":0.65,"pct":5},{"scale":5,"m":6,"r":0.7,"pct":1},{"scale":5,"m":6,"r":0.75,"pct":0},{"scale":5,"m":6,"r":0.8,"pct":0},
{"scale":5,"m":7,"r":0.05,"pct":100},{"scale":5,"m":7,"r":0.1,"pct":100},{"scale":5,"m":7,"r":0.15,"pct":100},{"scale":5,"m":7,"r":0.2,"pct":100},{"scale":5,"m":7,"r":0.25,"pct":100},{"scale":5,"m":7,"r":0.3,"pct":99},{"scale":5,"m":7,"r":0.35,"pct":95},{"scale":5,"m":7,"r":0.4,"pct":84},{"scale":5,"m":7,"r":0.45,"pct":75},{"scale":5,"m":7,"r":0.5,"pct":60},{"scale":5,"m":7,"r":0.55,"pct":45},{"scale":5,"m":7,"r":0.6,"pct":30},{"scale":5,"m":7,"r":0.65,"pct":18},{"scale":5,"m":7,"r":0.7,"pct":9},{"scale":5,"m":7,"r":0.75,"pct":2},{"scale":5,"m":7,"r":0.8,"pct":1},
{"scale":5,"m":8,"r":0.05,"pct":100},{"scale":5,"m":8,"r":0.1,"pct":100},{"scale":5,"m":8,"r":0.15,"pct":100},{"scale":5,"m":8,"r":0.2,"pct":100},{"scale":5,"m":8,"r":0.25,"pct":100},{"scale":5,"m":8,"r":0.3,"pct":100},{"scale":5,"m":8,"r":0.35,"pct":98},{"scale":5,"m":8,"r":0.4,"pct":93},{"scale":5,"m":8,"r":0.45,"pct":87},{"scale":5,"m":8,"r":0.5,"pct":78},{"scale":5,"m":8,"r":0.55,"pct":67},{"scale":5,"m":8,"r":0.6,"pct":50},{"scale":5,"m":8,"r":0.65,"pct":38},{"scale":5,"m":8,"r":0.7,"pct":26},{"scale":5,"m":8,"r":0.75,"pct":15},{"scale":5,"m":8,"r":0.8,"pct":8},
{"scale":6,"m":1,"r":0.05,"pct":12},{"scale":6,"m":1,"r":0.1,"pct":0},{"scale":6,"m":1,"r":0.15,"pct":0},{"scale":6,"m":1,"r":0.2,"pct":0},{"scale":6,"m":1,"r":0.25,"pct":0},{"scale":6,"m":1,"r":0.3,"pct":0},{"scale":6,"m":1,"r":0.35,"pct":0},{"scale":6,"m":1,"r":0.4,"pct":0},{"scale":6,"m":1,"r":0.45,"pct":0},{"scale":6,"m":1,"r":0.5,"pct":0},{"scale":6,"m":1,"r":0.55,"pct":0},{"scale":6,"m":1,"r":0.6,"pct":0},{"scale":6,"m":1,"r":0.65,"pct":0},{"scale":6,"m":1,"r":0.7,"pct":0},{"scale":6,"m":1,"r":0.75,"pct":0},{"scale":6,"m":1,"r":0.8,"pct":0},
{"scale":6,"m":2,"r":0.05,"pct":78},{"scale":6,"m":2,"r":0.1,"pct":42},{"scale":6,"m":2,"r":0.15,"pct":12},{"scale":6,"m":2,"r":0.2,"pct":1},{"scale":6,"m":2,"r":0.25,"pct":0},{"scale":6,"m":2,"r":0.3,"pct":0},{"scale":6,"m":2,"r":0.35,"pct":0},{"scale":6,"m":2,"r":0.4,"pct":0},{"scale":6,"m":2,"r":0.45,"pct":0},{"scale":6,"m":2,"r":0.5,"pct":0},{"scale":6,"m":2,"r":0.55,"pct":0},{"scale":6,"m":2,"r":0.6,"pct":0},{"scale":6,"m":2,"r":0.65,"pct":0},{"scale":6,"m":2,"r":0.7,"pct":0},{"scale":6,"m":2,"r":0.75,"pct":0},{"scale":6,"m":2,"r":0.8,"pct":0},
{"scale":6,"m":3,"r":0.05,"pct":96},{"scale":6,"m":3,"r":0.1,"pct":79},{"scale":6,"m":3,"r":0.15,"pct":65},{"scale":6,"m":3,"r":0.2,"pct":41},{"scale":6,"m":3,"r":0.25,"pct":18},{"scale":6,"m":3,"r":0.3,"pct":6},{"scale":6,"m":3,"r":0.35,"pct":1},{"scale":6,"m":3,"r":0.4,"pct":0},{"scale":6,"m":3,"r":0.45,"pct":0},{"scale":6,"m":3,"r":0.5,"pct":0},{"scale":6,"m":3,"r":0.55,"pct":0},{"scale":6,"m":3,"r":0.6,"pct":0},{"scale":6,"m":3,"r":0.65,"pct":0},{"scale":6,"m":3,"r":0.7,"pct":0},{"scale":6,"m":3,"r":0.75,"pct":0},{"scale":6,"m":3,"r":0.8,"pct":0},
{"scale":6,"m":4,"r":0.05,"pct":100},{"scale":6,"m":4,"r":0.1,"pct":93},{"scale":6,"m":4,"r":0.15,"pct":79},{"scale":6,"m":4,"r":0.2,"pct":71},{"scale":6,"m":4,"r":0.25,"pct":58},{"scale":6,"m":4,"r":0.3,"pct":41},{"scale":6,"m":4,"r":0.35,"pct":22},{"scale":6,"m":4,"r":0.4,"pct":10},{"scale":6,"m":4,"r":0.45,"pct":4},{"scale":6,"m":4,"r":0.5,"pct":0},{"scale":6,"m":4,"r":0.55,"pct":0},{"scale":6,"m":4,"r":0.6,"pct":0},{"scale":6,"m":4,"r":0.65,"pct":0},{"scale":6,"m":4,"r":0.7,"pct":0},{"scale":6,"m":4,"r":0.75,"pct":0},{"scale":6,"m":4,"r":0.8,"pct":0},
{"scale":6,"m":5,"r":0.05,"pct":100},{"scale":6,"m":5,"r":0.1,"pct":98},{"scale":6,"m":5,"r":0.15,"pct":89},{"scale":6,"m":5,"r":0.2,"pct":81},{"scale":6,"m":5,"r":0.25,"pct":73},{"scale":6,"m":5,"r":0.3,"pct":68},{"scale":6,"m":5,"r":0.35,"pct":53},{"scale":6,"m":5,"r":0.4,"pct":38},{"scale":6,"m":5,"r":0.45,"pct":24},{"scale":6,"m":5,"r":0.5,"pct":11},{"scale":6,"m":5,"r":0.55,"pct":2},{"scale":6,"m":5,"r":0.6,"pct":1},{"scale":6,"m":5,"r":0.65,"pct":0},{"scale":6,"m":5,"r":0.7,"pct":0},{"scale":6,"m":5,"r":0.75,"pct":0},{"scale":6,"m":5,"r":0.8,"pct":0},
{"scale":6,"m":6,"r":0.05,"pct":100},{"scale":6,"m":6,"r":0.1,"pct":100},{"scale":6,"m":6,"r":0.15,"pct":96},{"scale":6,"m":6,"r":0.2,"pct":87},{"scale":6,"m":6,"r":0.25,"pct":80},{"scale":6,"m":6,"r":0.3,"pct":75},{"scale":6,"m":6,"r":0.35,"pct":70},{"scale":6,"m":6,"r":0.4,"pct":62},{"scale":6,"m":6,"r":0.45,"pct":49},{"scale":6,"m":6,"r":0.5,"pct":35},{"scale":6,"m":6,"r":0.55,"pct":20},{"scale":6,"m":6,"r":0.6,"pct":11},{"scale":6,"m":6,"r":0.65,"pct":3},{"scale":6,"m":6,"r":0.7,"pct":1},{"scale":6,"m":6,"r":0.75,"pct":0},{"scale":6,"m":6,"r":0.8,"pct":0},
{"scale":6,"m":7,"r":0.05,"pct":100},{"scale":6,"m":7,"r":0.1,"pct":100},{"scale":6,"m":7,"r":0.15,"pct":98},{"scale":6,"m":7,"r":0.2,"pct":94},{"scale":6,"m":7,"r":0.25,"pct":87},{"scale":6,"m":7,"r":0.3,"pct":81},{"scale":6,"m":7,"r":0.35,"pct":78},{"scale":6,"m":7,"r":0.4,"pct":73},{"scale":6,"m":7,"r":0.45,"pct":67},{"scale":6,"m":7,"r":0.5,"pct":54},{"scale":6,"m":7,"r":0.55,"pct":44},{"scale":6,"m":7,"r":0.6,"pct":29},{"scale":6,"m":7,"r":0.65,"pct":18},{"scale":6,"m":7,"r":0.7,"pct":9},{"scale":6,"m":7,"r":0.75,"pct":4},{"scale":6,"m":7,"r":0.8,"pct":1},
{"scale":6,"m":8,"r":0.05,"pct":100},{"scale":6,"m":8,"r":0.1,"pct":100},{"scale":6,"m":8,"r":0.15,"pct":100},{"scale":6,"m":8,"r":0.2,"pct":97},{"scale":6,"m":8,"r":0.25,"pct":93},{"scale":6,"m":8,"r":0.3,"pct":87},{"scale":6,"m":8,"r":0.35,"pct":81},{"scale":6,"m":8,"r":0.4,"pct":78},{"scale":6,"m":8,"r":0.45,"pct":73},{"scale":6,"m":8,"r":0.5,"pct":69},{"scale":6,"m":8,"r":0.55,"pct":58},{"scale":6,"m":8,"r":0.6,"pct":49},{"scale":6,"m":8,"r":0.65,"pct":36},{"scale":6,"m":8,"r":0.7,"pct":26},{"scale":6,"m":8,"r":0.75,"pct":14},{"scale":6,"m":8,"r":0.8,"pct":8}
]}},
{"width":29,"height":716,"view":{"stroke":null},"title":{"text":"Percentage (%)","orient":"left","fontSize":40,"subtitle":"","dx":-154,"offset":20},
"data":{"values":[{"lo":0,"hi":2},{"lo":2,"hi":4},{"lo":4,"hi":6},{"lo":6,"hi":8},{"lo":8,"hi":10},{"lo":10,"hi":12},{"lo":12,"hi":14},{"lo":14,"hi":16},{"lo":16,"hi":18},{"lo":18,"hi":20},{"lo":20,"hi":22},{"lo":22,"hi":24},{"lo":24,"hi":26},{"lo":26,"hi":28},{"lo":28,"hi":30},{"lo":30,"hi":32},{"lo":32,"hi":34},{"lo":34,"hi":36},{"lo":36,"hi":38},{"lo":38,"hi":40},{"lo":40,"hi":42},{"lo":42,"hi":44},{"lo":44,"hi":46},{"lo":46,"hi":48},{"lo":48,"hi":50},{"lo":50,"hi":52},{"lo":52,"hi":54},{"lo":54,"hi":56},{"lo":56,"hi":58},{"lo":58,"hi":60},{"lo":60,"hi":62},{"lo":62,"hi":64},{"lo":64,"hi":66},{"lo":66,"hi":68},{"lo":68,"hi":70},{"lo":70,"hi":72},{"lo":72,"hi":74},{"lo":74,"hi":76},{"lo":76,"hi":78},{"lo":78,"hi":80},{"lo":80,"hi":82},{"lo":82,"hi":84},{"lo":84,"hi":86},{"lo":86,"hi":88},{"lo":88,"hi":90},{"lo":90,"hi":92},{"lo":92,"hi":94},{"lo":94,"hi":96},{"lo":96,"hi":98},{"lo":98,"hi":100}]},
"mark":{"type":"rect","strokeWidth":0.6},"encoding":{"y":{"field":"lo","type":"quantitative","scale":{"domain":[0,100],"range":[716,298],"nice":false},"axis":{"orient":"right","title":null,"values":[0,20,40,60,80,100],"domain":true,"domainColor":"#333","ticks":true,"tickSize":-5,"labelPadding":7}},"y2":{"field":"hi"},"color":{"field":"hi","type":"quantitative","legend":null,"scale":{"domain":[0,11.1,36.5,61.9,87.3,100],"range":["#00008f","#0000ff","#00ffff","#ffff00","#ff0000","#800000"],"interpolate":"rgb"}},"stroke":{"field":"hi","type":"quantitative","legend":null,"scale":{"domain":[0,11.1,36.5,61.9,87.3,100],"range":["#00008f","#0000ff","#00ffff","#ffff00","#ff0000","#800000"],"interpolate":"rgb"}}}}
]}
